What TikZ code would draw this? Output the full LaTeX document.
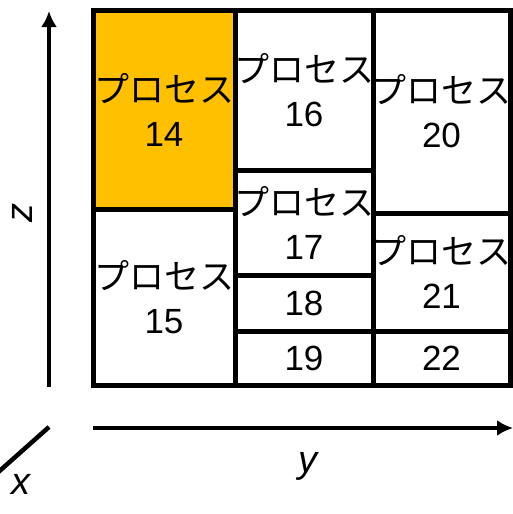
\documentclass[tikz,border=0pt]{standalone}
\usepackage{fontspec}
\setmainfont{Liberation Sans}
\newfontfamily\jpfont{Noto Sans CJK JP}
\usepackage{xcolor}
\usepackage{tikz}
\usetikzlibrary{arrows.meta, positioning}
\definecolor{procorange}{HTML}{FFC000}

\tikzset{
    proc/.style={draw, line width=5pt, align=center, inner xsep=-20pt, inner ysep=0pt,
        font=\fontsize{35}{44}\selectfont},
    axis/.style={line width=4.5pt},
    axislabel/.style={font=\fontsize{38}{40}\selectfont\itshape, inner sep=0pt}
}
\newcommand{\proc}[1]{{\jpfont プロセス}\\#1}

\begin{document}
\begin{tikzpicture}[x=1pt, y=-1pt, >={Latex[length=16pt,width=16pt]}]
    \useasboundingbox (0,0) rectangle (513,514);
    \begin{scope}
    \clip (0,0) rectangle (513,514);

    % Trục tọa độ
    \draw[->, axis] (49,387) -- (49,11);
    \draw[->, axis] (93,428) -- (513,428);
    \draw[axis] (49,427) -- (-5,475);
    \node[axislabel, rotate=90] (lz) at (22,213) {z};
    \node[axislabel] (ly) at (308,466) {y};
    \node[axislabel] (lx) at (21,484) {x};

    % Cột 1
    \node[proc, fill=procorange, minimum width=142pt, minimum height=199pt]
        (p14) at (164,109.5) {\proc{14}};
    \node[proc, minimum width=142pt, minimum height=176pt]
        (p15) at (164,297) {\proc{15}};

    % Cột 2
    \node[proc, minimum width=138pt, minimum height=160pt]
        (p16) at (304,90) {\proc{16}};
    \node[proc, minimum width=138pt, minimum height=105pt]
        (p17) at (304,222.5) {\proc{17}};
    \node[proc, minimum width=138pt, minimum height=56pt]
        (p18) at (304,303) {18};
    \node[proc, minimum width=138pt, minimum height=54pt]
        (p19) at (304,358) {19};

    % Cột 3
    \node[proc, minimum width=137pt, minimum height=203pt]
        (p20) at (441.5,111.5) {\proc{20}};
    \node[proc, minimum width=137pt, minimum height=118pt]
        (p21) at (441.5,272) {\proc{21}};
    \node[proc, minimum width=137pt, minimum height=54pt]
        (p22) at (441.5,358) {22};
    \end{scope}
\end{tikzpicture}
\end{document}
